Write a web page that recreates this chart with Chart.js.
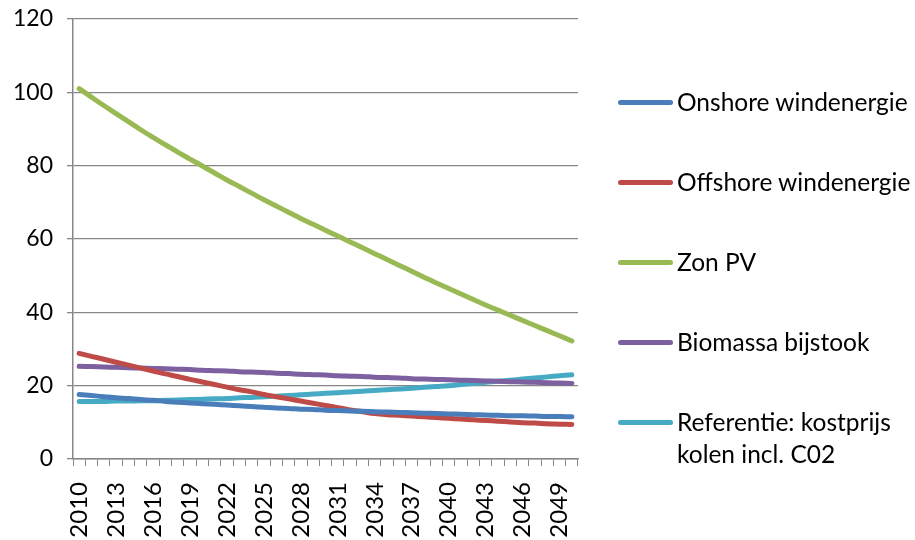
<!DOCTYPE html>
<html>
<head>
<meta charset="utf-8">
<script src="https://cdn.jsdelivr.net/npm/chart.js@4.4.1/dist/chart.umd.min.js"></script>
<style>
  html, body { margin: 0; padding: 0; background: #fff; }
  #wrap { position: relative; width: 915px; height: 540px; }
  #legend { position: absolute; left: 618px; top: 0; font-family: Lato, sans-serif; font-size: 24.5px; color: #000; }
  .item { position: absolute; left: 0; white-space: nowrap; line-height: 32px; }
  .swatch { position: absolute; left: 0; top: 14px; width: 55px; height: 5px; border-radius: 3px; }
  .label { position: absolute; left: 59px; top: 0; }
</style>
</head>
<body>
<div id="wrap">
  <canvas id="costChart" width="915" height="540"></canvas>
  <div id="legend"></div>
</div>
<script>
// Years 2010 - 2050
const years = ['2010','2011','2012','2013','2014','2015','2016','2017','2018','2019',
               '2020','2021','2022','2023','2024','2025','2026','2027','2028','2029',
               '2030','2031','2032','2033','2034','2035','2036','2037','2038','2039',
               '2040','2041','2042','2043','2044','2045','2046','2047','2048','2049','2050'];

const onshore = [17.6, 17.3, 17.0, 16.7, 16.5, 16.2, 16.0, 15.7, 15.5, 15.3,
                 15.1, 14.9, 14.7, 14.5, 14.3, 14.1, 13.9, 13.8, 13.6, 13.5,
                 13.3, 13.2, 13.1, 13.0, 12.9, 12.8, 12.7, 12.6, 12.5, 12.4,
                 12.3, 12.2, 12.1, 12.0, 11.9, 11.8, 11.8, 11.7, 11.6, 11.6, 11.5];

const offshore = [28.8, 28.0, 27.2, 26.4, 25.6, 24.8, 24.0, 23.2, 22.5, 21.7,
                  21.0, 20.3, 19.6, 18.9, 18.3, 17.6, 17.0, 16.4, 15.8, 15.2,
                  14.6, 14.0, 13.4, 12.9, 12.4, 12.1, 11.9, 11.7, 11.5, 11.3,
                  11.1, 10.9, 10.7, 10.5, 10.3, 10.1, 9.9, 9.8, 9.6, 9.5, 9.4];

const zonPV = [101.0, 98.7, 96.4, 94.2, 92.0, 89.8, 87.7, 85.7, 83.7, 81.8,
               79.9, 78.0, 76.1, 74.3, 72.5, 70.7, 69.0, 67.3, 65.6, 64.0,
               62.4, 60.8, 59.2, 57.6, 56.0, 54.4, 52.8, 51.2, 49.6, 48.0,
               46.5, 45.0, 43.5, 42.0, 40.6, 39.2, 37.8, 36.4, 35.0, 33.6, 32.2];

const biomassa = [25.3, 25.2, 25.1, 25.0, 24.9, 24.8, 24.7, 24.6, 24.5, 24.4,
                  24.2, 24.1, 24.0, 23.8, 23.7, 23.6, 23.4, 23.3, 23.1, 23.0,
                  22.9, 22.7, 22.6, 22.5, 22.3, 22.2, 22.1, 21.9, 21.8, 21.7,
                  21.6, 21.5, 21.4, 21.3, 21.2, 21.1, 21.0, 20.9, 20.8, 20.7, 20.6];

const referentie = [15.7, 15.7, 15.7, 15.8, 15.8, 15.9, 15.9, 16.0, 16.1, 16.2,
                    16.3, 16.4, 16.5, 16.7, 16.8, 17.0, 17.1, 17.3, 17.5, 17.7,
                    17.9, 18.1, 18.3, 18.5, 18.7, 18.9, 19.1, 19.3, 19.6, 19.8,
                    20.0, 20.3, 20.6, 20.9, 21.2, 21.5, 21.8, 22.1, 22.4, 22.7, 23.0];

const seriesNames = ['Onshore windenergie', 'Offshore windenergie', 'Zon PV',
                     'Biomassa bijstook', 'Referentie: kostprijs\nkolen incl. C02'];
const seriesColors = ['#4A7EBB', '#BE4B48', '#98B954', '#7D60A0', '#46AAC5'];
const seriesData = [onshore, offshore, zonPV, biomassa, referentie];

const yTicks = [0, 20, 40, 60, 80, 100, 120];

const FONT = 'Lato, sans-serif';
const GRID = '#868686';

const datasets = seriesData.map((values, i) => ({
    label: seriesNames[i],
    data: values,
    borderColor: seriesColors[i],
    backgroundColor: seriesColors[i],
    borderWidth: 5,
    borderCapStyle: 'round',
    pointRadius: 0,
    tension: 0.4,
    fill: false
}));

new Chart(document.getElementById('costChart'), {
    type: 'line',
    data: { labels: years, datasets: datasets },
    options: {
        responsive: false,
        animation: false,
        layout: { padding: { left: 0, right: 337, top: 19, bottom: 0 } },
        plugins: { legend: { display: false }, tooltip: { enabled: false } },
        scales: {
            x: {
                offset: true,
                grid: { offset: true, drawOnChartArea: false, drawTicks: true, tickLength: 7, color: GRID, lineWidth: 1 },
                border: { color: GRID, width: 1.5 },
                ticks: {
                    autoSkip: false,
                    minRotation: 90,
                    maxRotation: 90,
                    padding: 16,
                    color: '#000',
                    font: { family: FONT, size: 24 },
                    callback: (value, index) => index % 3 === 0 ? years[index] : ''
                },
                afterFit: (scale) => { scale.height = 81; }
            },
            y: {
                min: yTicks[0],
                max: yTicks[yTicks.length - 1],
                afterBuildTicks: (scale) => { scale.ticks = yTicks.map(v => ({ value: v })); },
                grid: { color: GRID, lineWidth: 1.3, tickLength: 6 },
                border: { color: GRID, width: 1.5 },
                ticks: { color: '#000', padding: 14, font: { family: FONT, size: 23 } },
                afterFit: (scale) => {
                    scale.width = 73;
                    // let the top gridline sit on the layout padding
                    scale.paddingTop = 0;
                    scale.paddingBottom = 0;
                }
            }
        }
    }
});

// Legend on the right, one entry per series
const legend = document.getElementById('legend');
seriesNames.forEach((name, i) => {
    const item = document.createElement('div');
    item.className = 'item';
    item.style.top = (86 + i * 80) + 'px';
    const sw = document.createElement('div');
    sw.className = 'swatch';
    sw.style.background = seriesColors[i];
    const lab = document.createElement('div');
    lab.className = 'label';
    lab.innerHTML = name.split('\n').join('<br>');
    item.appendChild(sw);
    item.appendChild(lab);
    legend.appendChild(item);
});
</script>
</body>
</html>
